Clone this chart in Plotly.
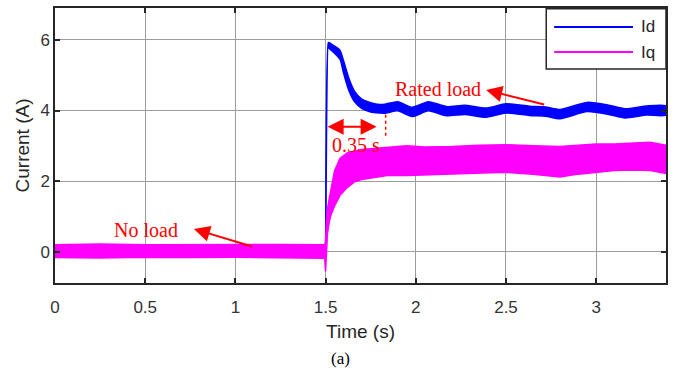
import plotly.graph_objects as go

# ---------------- data ----------------
# Id band (upper / lower envelope of the measured d-axis current)
id_t = [0.0, 1.499, 1.500, 1.515, 1.52, 1.55, 1.58, 1.60, 1.63, 1.66, 1.70, 1.75, 1.80,
        1.83, 1.90, 1.98, 2.07, 2.17, 2.27, 2.39, 2.50, 2.63, 2.72, 2.80, 2.95, 3.07,
        3.16, 3.28, 3.387]
id_hi = [0.05, 0.05, 0.10, 5.92, 5.92, 5.82, 5.70, 5.40, 4.90, 4.55, 4.32, 4.22, 4.17,
         4.18, 4.25, 4.09, 4.25, 4.11, 4.15, 4.07, 4.19, 4.12, 4.10, 4.03, 4.23, 4.15,
         4.05, 4.13, 4.13]
id_lo = [-0.05, -0.05, -0.10, 5.80, 5.76, 5.62, 5.45, 5.05, 4.55, 4.25, 4.06, 3.96, 3.93,
         3.92, 3.99, 3.83, 3.99, 3.85, 3.89, 3.81, 3.93, 3.86, 3.84, 3.77, 3.97, 3.89,
         3.79, 3.87, 3.87]

# Iq band (upper / lower envelope of the measured q-axis current)
iq_t = [0.0, 0.25, 0.5, 0.75, 1.0, 1.25, 1.495, 1.500, 1.505, 1.51, 1.52, 1.53, 1.55,
        1.58, 1.62, 1.66, 1.70, 1.75, 1.85, 1.95, 2.05, 2.20, 2.35, 2.50, 2.65, 2.80,
        2.90, 3.00, 3.10, 3.20, 3.30, 3.387]
iq_hi = [0.20, 0.22, 0.20, 0.21, 0.20, 0.21, 0.20, 0.30, 0.90, 1.20, 1.50, 1.80, 2.30,
         2.65, 2.80, 2.85, 2.90, 2.92, 2.95, 3.00, 2.97, 2.98, 3.02, 3.03, 3.00, 2.98,
         3.02, 3.05, 3.05, 3.08, 3.10, 3.02]
iq_lo = [-0.16, -0.17, -0.15, -0.16, -0.15, -0.16, -0.18, -0.55, -0.10, 0.50, 0.85, 1.05, 1.30,
         1.60, 1.82, 1.98, 2.05, 2.10, 2.17, 2.16, 2.18, 2.20, 2.23, 2.25, 2.20, 2.12,
         2.20, 2.26, 2.30, 2.32, 2.30, 2.22]

x_ticks = [0, 0.5, 1, 1.5, 2, 2.5, 3]
x_tick_labels = ["0", "0.5", "1", "1.5", "2", "2.5", "3"]
y_ticks = [0, 2, 4, 6]
y_tick_labels = ["0", "2", "4", "6"]
series_names = ["Id", "Iq"]
series_colors = ["#0000FF", "#FF00FF"]

# ---------------- figure ----------------
fig = go.Figure()

def band(t, hi, lo, color, name, shape="linear"):
    return go.Scatter(
        x=list(t) + list(t)[::-1],
        y=list(hi) + list(lo)[::-1],
        fill="toself", fillcolor=color,
        mode="lines", line=dict(color=color, width=1.5, shape=shape, smoothing=0.6),
        name=name, showlegend=False, hoverinfo="skip",
    )

fig.add_trace(band(id_t, id_hi, id_lo, series_colors[0], series_names[0], "spline"))
fig.add_trace(band(iq_t, iq_hi, iq_lo, series_colors[1], series_names[1]))

axis_col = "#262626"
tick_font = dict(family="Liberation Sans, Arial", size=17, color="#333333")
serif = "Liberation Serif, Times New Roman"
red = "#FF0000"

fig.update_xaxes(
    range=[0, 3.387], tickvals=x_ticks, ticktext=x_tick_labels,
    showline=True, linecolor=axis_col, linewidth=1.5, mirror="ticks",
    ticks="inside", ticklen=5, tickwidth=1.5, tickcolor=axis_col,
    showgrid=True, gridcolor="#9c9c9c", gridwidth=1.2, zeroline=False,
    tickfont=tick_font, ticklabelstandoff=8,
    title=dict(text="Time (s)", font=dict(family="Liberation Sans, Arial", size=19, color=axis_col), standoff=9),
)
fig.update_yaxes(
    range=[-0.88, 6.9], tickvals=y_ticks, ticktext=y_tick_labels,
    showline=True, linecolor=axis_col, linewidth=1.5, mirror="ticks",
    ticks="inside", ticklen=5, tickwidth=1.5, tickcolor=axis_col,
    showgrid=True, gridcolor="#9c9c9c", gridwidth=1.2, zeroline=False,
    tickfont=tick_font,
    title=dict(text="Current (A)", font=dict(family="Liberation Sans, Arial", size=19, color=axis_col), standoff=6),
)

# annotations: texts
fig.add_annotation(x=2.125, y=4.62, xref="x", yref="y", text="Rated load", showarrow=False,
                   font=dict(family=serif, size=20, color=red))
fig.add_annotation(x=0.506, y=0.62, xref="x", yref="y", text="No load", showarrow=False,
                   font=dict(family=serif, size=20, color=red))
fig.add_annotation(x=1.667, y=3.03, xref="x", yref="y", text="0.35 s", showarrow=False,
                   font=dict(family=serif, size=20, color=red))

# arrows
fig.add_annotation(x=2.39, y=4.58, ax=2.72, ay=4.16, xref="x", yref="y", axref="x", ayref="y",
                   text="", showarrow=True, arrowhead=2, arrowsize=1.6, arrowwidth=2, arrowcolor=red)
fig.add_annotation(x=0.77, y=0.65, ax=1.10, ay=0.14, xref="x", yref="y", axref="x", ayref="y",
                   text="", showarrow=True, arrowhead=2, arrowsize=1.6, arrowwidth=2, arrowcolor=red)
fig.add_annotation(x=1.783, y=3.54, ax=1.503, ay=3.54, xref="x", yref="y", axref="x", ayref="y",
                   text="", showarrow=True, arrowhead=2, startarrowhead=2, arrowside="end+start",
                   arrowsize=1.6, startarrowsize=1.6, arrowwidth=2, arrowcolor=red)
fig.add_shape(type="line", x0=1.833, x1=1.833, y0=3.88, y1=3.22, xref="x", yref="y",
              line=dict(color=red, width=1.5, dash="dot"))

# legend (MATLAB-style box)
fig.add_shape(type="rect", xref="paper", yref="paper", x0=0.804, x1=1.0, y0=0.778, y1=0.997,
              line=dict(color=axis_col, width=1.5), fillcolor="white", layer="above")
legend_y = [0.931, 0.840]
for name, col, ly in zip(series_names, series_colors, legend_y):
    fig.add_shape(type="line", xref="paper", yref="paper", x0=0.817, x1=0.946, y0=ly, y1=ly,
                  line=dict(color=col, width=2), layer="above")
    fig.add_annotation(x=0.955, y=ly, xref="paper", yref="paper", text=name, showarrow=False,
                       xanchor="left", yanchor="middle",
                       font=dict(family="Liberation Sans, Arial", size=17, color=axis_col))

# caption
fig.add_annotation(x=0.468, y=-0.276, xref="paper", yref="paper", text="(a)", showarrow=False,
                   xanchor="center", yanchor="middle",
                   font=dict(family=serif, size=17, color="black"))

fig.update_layout(
    width=674, height=370,
    margin=dict(l=55, r=6, t=8, b=87),
    paper_bgcolor="white", plot_bgcolor="white",
    showlegend=False,
)

fig.write_html("out.html")
